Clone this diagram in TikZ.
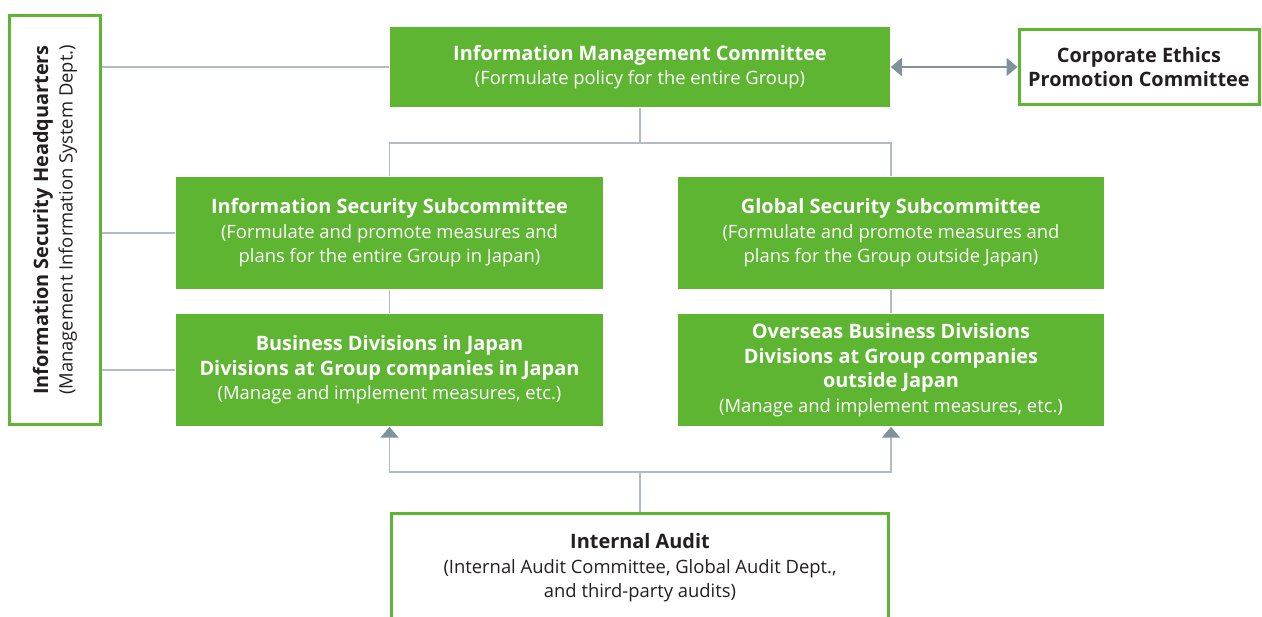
\documentclass[tikz,border=0pt]{standalone}
\usepackage{fontspec}
\setmainfont{Open Sans}
\usetikzlibrary{arrows.meta,positioning}
\definecolor{jgreen}{RGB}{94,181,50}
\definecolor{jline}{RGB}{178,187,192}
\definecolor{jarrow}{RGB}{128,146,156}
\definecolor{jtext}{RGB}{35,31,32}
\newcommand\headfont{\fontsize{19.9}{24.5}\selectfont\bfseries}
\newcommand\subfont{\fontsize{18.4}{24.5}\selectfont}

\begin{document}
\begin{tikzpicture}[x=1pt, y=-1pt, >={Triangle[length=11pt, width=18pt, color=jarrow]}, line width=1.5pt,
  greenbox/.style={fill=jgreen, text=white, align=center, inner sep=0pt, font=\subfont},
  whitebox/.style={draw=jgreen, line width=3pt, fill=white, text=jtext, align=center, inner sep=0pt, font=\subfont},
  link/.style={draw=jline, line width=1.5pt}]
\useasboundingbox (0,0) rectangle (1262,617);
% boxes
\node[whitebox, minimum width=91, minimum height=409] (hq) at (55,220) {};
\node[rotate=90, align=center, text=jtext, font=\subfont] (hqlabel) at (hq.center)
  {{\headfont Information Security Headquarters}\\(Management Information System Dept.)};
\node[greenbox, minimum width=500, minimum height=80] (imc) at (640,67)
  {{\headfont Information Management Committee}\\(Formulate policy for the entire Group)};
\node[whitebox, minimum width=240, minimum height=75] (cepc) at (1139,67)
  {\headfont Corporate Ethics\\\headfont Promotion Committee};
\node[greenbox, minimum width=427, minimum height=112] (iss) at (389.5,233)
  {{\headfont Information Security Subcommittee}\\(Formulate and promote measures and\\plans for the entire Group in Japan)};
\node[greenbox, minimum width=426, minimum height=112] (gss) at (891,233)
  {{\headfont Global Security Subcommittee}\\(Formulate and promote measures and\\plans for the Group outside Japan)};
\node[greenbox, minimum width=427, minimum height=112] (bdj) at (389.5,370)
  {{\headfont Business Divisions in Japan}\\{\headfont Divisions at Group companies in Japan}\\(Manage and implement measures, etc.)};
\node[greenbox, minimum width=426, minimum height=112] (obd) at (891,370)
  {{\headfont Overseas Business Divisions}\\{\headfont Divisions at Group companies}\\{\headfont outside Japan}\\(Manage and implement measures, etc.)};
\node[whitebox, minimum width=497, minimum height=109] (ia) at (640,568)
  {{\headfont Internal Audit}\\(Internal Audit Committee, Global Audit Dept.,\\and third-party audits)};
% connectors
\draw[link] (hq.east |- imc.west) -- (imc.west);
\draw[link] (hq.east |- iss.west) -- (iss.west);
\draw[link] (hq.east |- bdj.west) -- (bdj.west);
\coordinate (split) at (640,143);
\draw[link] (imc.south) -- (split);
\draw[link] (iss.north) |- (split) -| (gss.north);
\draw[link] (iss.south) -- (bdj.north);
\draw[link] (gss.south) -- (obd.north);
\coordinate (join) at (640,472);
\draw[link] (ia.north) -- (join);
\draw[link, ->] (join) -| (bdj.south);
\draw[link, ->] (join) -| (obd.south);
\draw[link, draw=jarrow, <->] (imc.east) -- (cepc.west);
\end{tikzpicture}
\end{document}
